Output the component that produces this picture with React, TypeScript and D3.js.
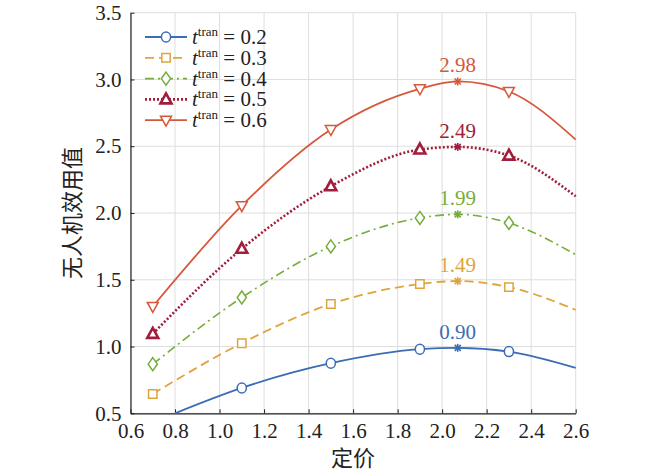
import React, { useEffect, useRef } from 'react';
import * as d3 from 'd3';

// price points; 2.07 is the peak (star) position
const priceX = [0.7, 1.1, 1.5, 1.9, 2.07, 2.3, 2.6];
const blueX = [0.8, 1.1, 1.5, 1.9, 2.07, 2.3, 2.6];

const util02 = [0.5, 0.69, 0.875, 0.98, 0.99, 0.962, 0.84];
const util03 = [0.645, 1.025, 1.318, 1.468, 1.49, 1.445, 1.275];
const util04 = [0.868, 1.367, 1.75, 1.963, 1.99, 1.925, 1.688];
const util05 = [1.095, 1.732, 2.2, 2.475, 2.495, 2.43, 2.125];
const util06 = [1.3, 2.055, 2.625, 2.93, 2.985, 2.91, 2.55];

const tranLabels = ['0.2', '0.3', '0.4', '0.5', '0.6'];
const peakLabels = ['0.90', '1.49', '1.99', '2.49', '2.98'];
const markerX = [0.7, 1.1, 1.5, 1.9, 2.3];
const peakX = 2.07;

const xTicks = [0.6, 0.8, 1.0, 1.2, 1.4, 1.6, 1.8, 2.0, 2.2, 2.4, 2.6];
const yTicks = [0.5, 1.0, 1.5, 2.0, 2.5, 3.0, 3.5];

const colors = ['#3b6db4', '#e0a43c', '#77ac3a', '#a01d3c', '#d6583a'];
const dashes = ['', '9,5', '9,4,2,4', '2,2', ''];
const widths = [1.8, 1.8, 1.6, 2.6, 1.8];
const markers = ['circle', 'square', 'diamond', 'triUp', 'triDown'];

const SERIF = "'Liberation Serif', 'Times New Roman', serif";
const CJK = "'Liberation Serif', 'Noto Sans CJK SC', serif";

function markerPath(kind: string): string {
  switch (kind) {
    case 'circle':
      return 'M4.6,0A4.6,5,0,1,1,-4.6,0A4.6,5,0,1,1,4.6,0Z';
    case 'square':
      return 'M-4.2,-4.2H4.2V4.2H-4.2Z';
    case 'diamond':
      return 'M0,-6.5L4.6,0L0,6.5L-4.6,0Z';
    case 'triUp':
      return 'M0,-6L5.5,4L-5.5,4Z';
    default:
      return 'M0,6L5.5,-4L-5.5,-4Z';
  }
}

export default function App() {
  const svgRef = useRef<SVGSVGElement>(null);
  const W = 650;
  const H = 473;

  useEffect(() => {
    if (!svgRef.current) return;
    const svg = d3.select(svgRef.current);
    svg.selectAll('*').remove();

    const margin = { left: 130.5, right: 650 - 575.7, top: 12.7, bottom: 473 - 413.3 };
    const x = d3.scaleLinear().domain([0.6, 2.6]).range([margin.left, W - margin.right]);
    const y = d3.scaleLinear().domain([0.5, 3.5]).range([H - margin.bottom, margin.top]);

    svg.append('rect').attr('width', W).attr('height', H).attr('fill', 'white');

    // grid
    const grid = svg.append('g').attr('stroke', '#dedede').attr('stroke-width', 1);
    grid.selectAll('.gx').data(xTicks).enter().append('line')
      .attr('x1', d => x(d)).attr('x2', d => x(d))
      .attr('y1', y(0.5)).attr('y2', y(3.5));
    grid.selectAll('.gy').data(yTicks).enter().append('line')
      .attr('x1', x(0.6)).attr('x2', x(2.6))
      .attr('y1', d => y(d)).attr('y2', d => y(d));

    // axes (left + bottom, inward ticks)
    const xAxis = svg.append('g')
      .attr('transform', `translate(0,${y(0.5)})`)
      .call(d3.axisBottom(x).tickValues(xTicks).tickFormat(d3.format('.1f')).tickSizeInner(-4).tickSizeOuter(0).tickPadding(10));
    xAxis.attr('font-family', SERIF).attr('font-size', 21);
    xAxis.select('.domain').attr('stroke', '#222').attr('stroke-width', 1.2);
    xAxis.selectAll('line').attr('stroke', '#222');
    xAxis.selectAll('text').attr('fill', '#222');

    const yAxis = svg.append('g')
      .attr('transform', `translate(${x(0.6)},0)`)
      .call(d3.axisLeft(y).tickValues(yTicks).tickFormat(d3.format('.1f')).tickSizeInner(-4).tickSizeOuter(0).tickPadding(9));
    yAxis.attr('font-family', SERIF).attr('font-size', 21);
    yAxis.select('.domain').attr('stroke', '#222').attr('stroke-width', 1.2);
    yAxis.selectAll('line').attr('stroke', '#222');
    yAxis.selectAll('text').attr('fill', '#222');

    // axis titles
    svg.append('text')
      .attr('x', (x(0.6) + x(2.6)) / 2).attr('y', 466)
      .attr('text-anchor', 'middle')
      .attr('font-family', CJK).attr('font-size', 22).attr('fill', '#222')
      .text('定价');
    svg.append('text')
      .attr('transform', `translate(80,${(y(0.5) + y(3.5)) / 2}) rotate(-90)`)
      .attr('text-anchor', 'middle')
      .attr('font-family', CJK).attr('font-size', 22).attr('fill', '#222')
      .text('无人机效用值');

    const seriesY = [util02, util03, util04, util05, util06];
    const line = d3.line<[number, number]>()
      .x(d => x(d[0])).y(d => y(d[1]))
      .curve(d3.curveMonotoneX);

    const plot = svg.append('g');
    seriesY.forEach((vals, i) => {
      const xs = i === 0 ? blueX : priceX;
      const pts: [number, number][] = xs.map((px, k) => [px, vals[k]]);
      plot.append('path')
        .attr('d', line(pts))
        .attr('fill', 'none')
        .attr('stroke', colors[i])
        .attr('stroke-width', widths[i])
        .attr('stroke-dasharray', dashes[i] || null);

      // markers
      pts.filter(p => markerX.includes(p[0])).forEach(p => {
        plot.append('path')
          .attr('d', markerPath(markers[i]))
          .attr('transform', `translate(${x(p[0])},${y(p[1])})`)
          .attr('fill', 'white')
          .attr('stroke', colors[i])
          .attr('stroke-width', i === 3 ? 2.6 : 1.5);
      });

      // peak star + label
      const peak = pts.find(p => p[0] === peakX)!;
      const star = plot.append('g').attr('transform', `translate(${x(peak[0])},${y(peak[1])})`)
        .attr('stroke', colors[i]).attr('stroke-width', 1.6);
      [[-4, 0, 4, 0], [0, -4, 0, 4], [-3, -3, 3, 3], [-3, 3, 3, -3]].forEach(s => {
        star.append('line').attr('x1', s[0]).attr('y1', s[1]).attr('x2', s[2]).attr('y2', s[3]);
      });
      plot.append('text')
        .attr('x', x(peak[0])).attr('y', y(peak[1]) - 9)
        .attr('text-anchor', 'middle')
        .attr('font-family', SERIF).attr('font-size', 21)
        .attr('fill', colors[i])
        .text(peakLabels[i]);
    });

    // legend
    const legend = svg.append('g');
    tranLabels.forEach((lab, i) => {
      const ly = 37 + i * 20.8;
      const row = legend.append('g').attr('transform', `translate(0,${ly})`);
      row.append('line')
        .attr('x1', 145).attr('x2', 187).attr('y1', 0).attr('y2', 0)
        .attr('stroke', colors[i]).attr('stroke-width', widths[i])
        .attr('stroke-dasharray', dashes[i] || null);
      row.append('path')
        .attr('d', markerPath(markers[i]))
        .attr('transform', 'translate(166,0)')
        .attr('fill', 'white').attr('stroke', colors[i])
        .attr('stroke-width', i === 3 ? 2.6 : 1.5);
      const t = row.append('text')
        .attr('x', 192).attr('y', 7)
        .attr('font-family', SERIF).attr('font-size', 21).attr('fill', '#222');
      t.append('tspan').attr('font-style', 'italic').text('t');
      t.append('tspan').attr('dy', -8).attr('font-size', 13).text('tran');
      t.append('tspan').attr('dy', 8).text(` = ${lab}`);
    });
  }, []);

  return (
    <div style={{ position: 'absolute', left: 0, top: 0 }}>
      <svg ref={svgRef} width={W} height={H} />
    </div>
  );
}
